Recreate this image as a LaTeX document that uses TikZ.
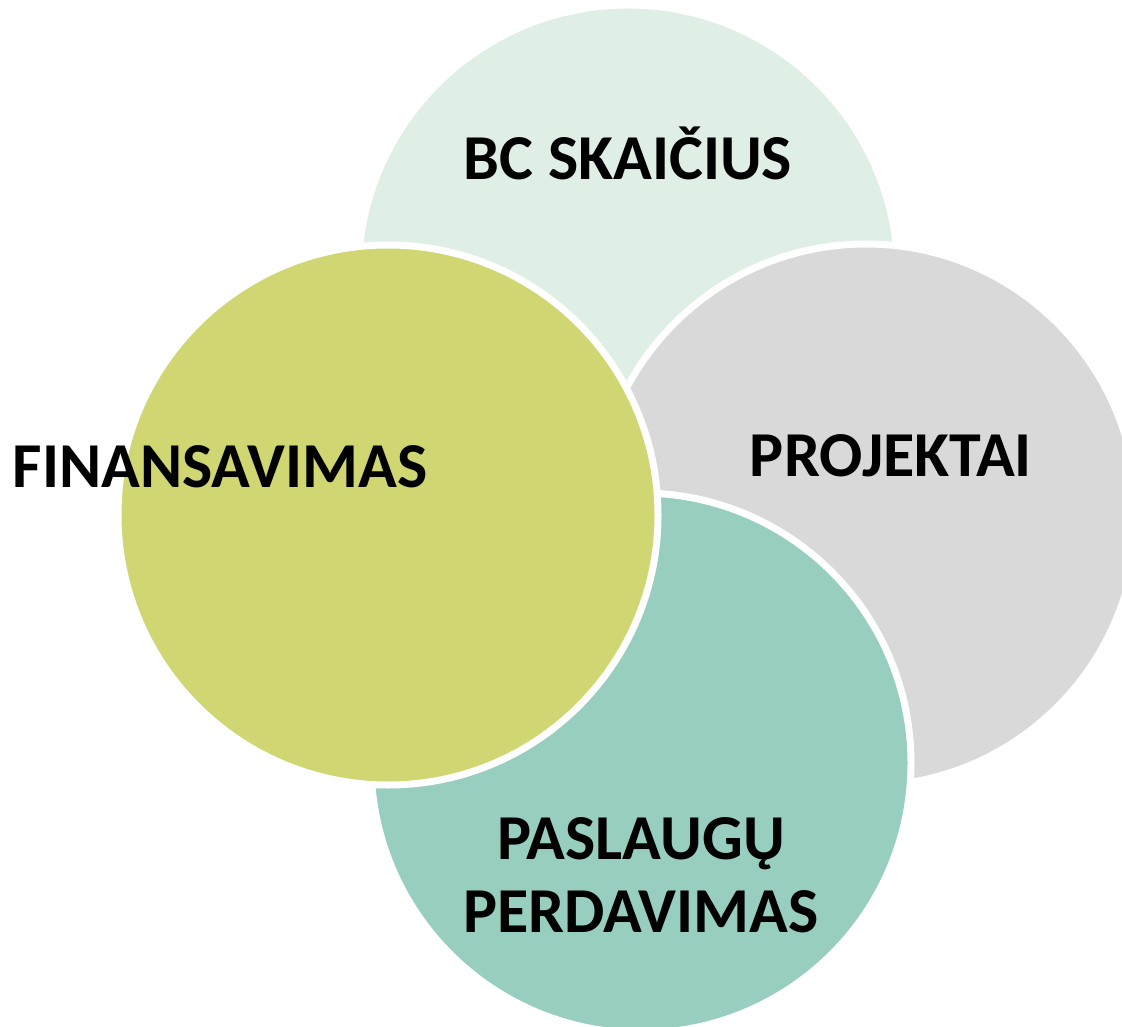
\documentclass[tikz,border=0pt]{standalone}
\usepackage{fontspec}
\setmainfont{Carlito}
\definecolor{topc}{HTML}{DFEFE5}
\definecolor{grayc}{HTML}{D9D9D9}
\definecolor{tealc}{HTML}{97CEC0}
\definecolor{olivec}{HTML}{D0D671}
\begin{document}
\begin{tikzpicture}[x=1pt,y=-1pt,
  circ/.style={draw=white,line width=7pt},
  lbl/.style={font=\bfseries\fontsize{64}{75}\selectfont,inner sep=0pt,anchor=base,text=black}]
\useasboundingbox (0,0) rectangle (1122,1027);
\clip (0,0) rectangle (1122,1027);
\path[circ,fill=topc] (628,275) circle[radius=270];
\path[circ,fill=grayc] (866,515) circle[radius=271];
\path[circ,fill=tealc] (641,763) circle[radius=270];
\path[circ,fill=olivec] (388,515) circle[radius=270];
\node[lbl] (bc) at (628,180) {BC SKAIČIUS};
\node[lbl] (proj) at (891,476) {PROJEKTAI};
\node[lbl] (fin) at (220,487) {FINANSAVIMAS};
\node[lbl] (pas1) at (641,859) {PASLAUGŲ};
\node[lbl] (pas2) at (641,932) {PERDAVIMAS};
\end{tikzpicture}
\end{document}
